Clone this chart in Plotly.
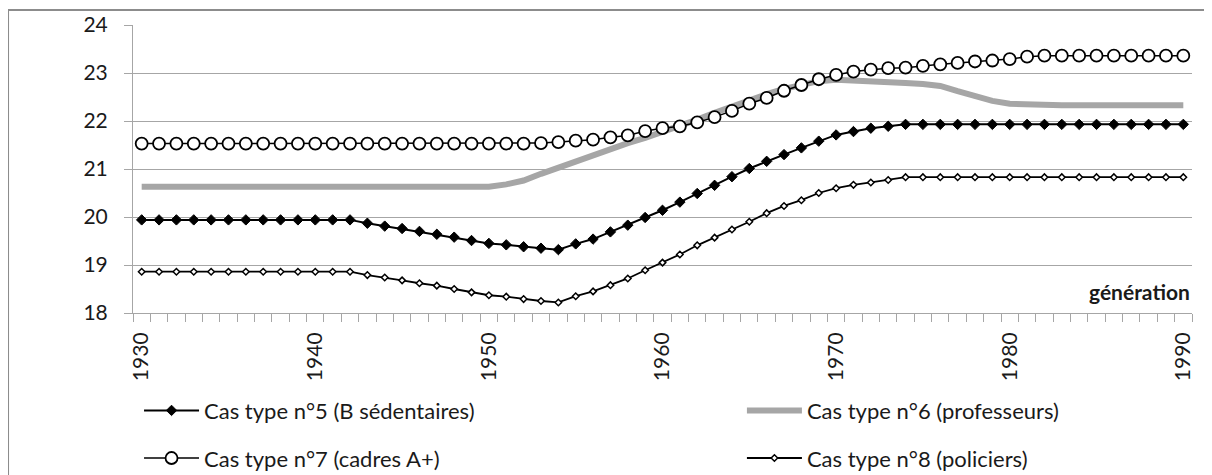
import plotly.graph_objects as go

years = list(range(1930, 1991))

cas5_b_sedentaires = (
    [19.94] * 13
    + [19.87, 19.81, 19.76, 19.70, 19.64, 19.58, 19.51, 19.45, 19.42, 19.38,
       19.35, 19.32, 19.44, 19.54, 19.69, 19.83, 19.99, 20.14, 20.31, 20.49,
       20.66, 20.84, 21.01, 21.16, 21.30, 21.44, 21.58, 21.71, 21.78, 21.85,
       21.89]
    + [21.93] * 17
)

cas6_professeurs = (
    [20.63] * 21
    + [20.68, 20.76, 20.90, 21.03, 21.17, 21.30, 21.42, 21.54, 21.65, 21.77,
       21.90, 22.03, 22.17, 22.31, 22.44, 22.56, 22.67, 22.76, 22.83, 22.86,
       22.85, 22.83, 22.81, 22.79, 22.77, 22.73, 22.62, 22.51, 22.42, 22.36,
       22.34]
    + [22.33] * 9
)

cas7_cadres = (
    [21.53] * 23
    + [21.54, 21.56, 21.59, 21.61, 21.66, 21.70, 21.79, 21.85, 21.89, 21.97,
       22.08, 22.21, 22.36, 22.48, 22.63, 22.75, 22.87, 22.96, 23.03, 23.07,
       23.10, 23.11, 23.15, 23.18, 23.21, 23.24, 23.26, 23.29, 23.34]
    + [23.36] * 9
)

cas8_policiers = (
    [18.86] * 13
    + [18.79, 18.74, 18.68, 18.62, 18.57, 18.50, 18.43, 18.37, 18.34, 18.29,
       18.25, 18.22, 18.35, 18.45, 18.58, 18.72, 18.89, 19.05, 19.22, 19.41,
       19.57, 19.74, 19.90, 20.08, 20.23, 20.35, 20.50, 20.60, 20.67, 20.72,
       20.77]
    + [20.83] * 17
)

names = [
    "Cas type n°5 (B sédentaires)",
    "Cas type n°6 (professeurs)",
    "Cas type n°7 (cadres A+)",
    "Cas type n°8 (policiers)",
]
x_tick_years = [1930, 1940, 1950, 1960, 1970, 1980, 1990]

FONT = "Lato, 'Open Sans', sans-serif"
GRID = "#A6A6A6"
TXT = "#1a1a1a"

fig = go.Figure()

fig.add_trace(go.Scatter(
    x=years, y=cas5_b_sedentaires, name=names[0], mode="lines+markers",
    line=dict(color="black", width=2),
    marker=dict(symbol="diamond", size=8, color="black", line=dict(color="black", width=1)),
    legend="legend", legendgroup="g5",
))
fig.add_trace(go.Scatter(
    x=years, y=cas6_professeurs, name=names[1], mode="lines",
    line=dict(color="#A6A6A6", width=6),
    legend="legend2", legendgroup="g6",
))
fig.add_trace(go.Scatter(
    x=years, y=cas7_cadres, name=names[2], mode="lines+markers",
    line=dict(color="black", width=1.5),
    marker=dict(symbol="circle", size=12, color="white", line=dict(color="black", width=1.8)),
    legend="legend", legendgroup="g7",
))
fig.add_trace(go.Scatter(
    x=years, y=cas8_policiers, name=names[3], mode="lines+markers",
    line=dict(color="black", width=1.8),
    marker=dict(symbol="diamond", size=5, color="white", line=dict(color="black", width=1.5)),
    legend="legend2", legendgroup="g8",
))

legend_common = dict(
    y=-0.266, yanchor="top", xanchor="left",
    orientation="v", tracegroupgap=16, itemwidth=55,
    bgcolor="rgba(0,0,0,0)", font=dict(family=FONT, size=22, color=TXT),
)

# page body adds an 8px offset; figure sized so the plot sits where the reference has it
fig.update_layout(
    width=1204, height=467,
    margin=dict(l=125, r=20, t=17, b=162, autoexpand=False),
    paper_bgcolor="white", plot_bgcolor="white",
    font=dict(family=FONT, size=21, color=TXT),
    xaxis=dict(
        range=[1929.5, 1990.5], tickvals=x_tick_years, tickangle=-90,
        ticks="outside", ticklen=10, tickcolor="rgba(0,0,0,0)",
        showline=True, linecolor=GRID, linewidth=1,
        showgrid=False, zeroline=False, automargin=False,
        minor=dict(tick0=1929.5, dtick=1, ticks="outside", ticklen=8,
                   tickcolor=GRID, showgrid=False),
        tickfont=dict(family=FONT, size=21, color=TXT),
    ),
    yaxis=dict(
        range=[18, 24], dtick=1, ticks="outside", ticklen=8, tickcolor=GRID,
        showline=True, linecolor=GRID, linewidth=1,
        showgrid=True, gridcolor=GRID, gridwidth=1, zeroline=False,
        ticklabelstandoff=12, automargin=False,
        tickfont=dict(family=FONT, size=21, color=TXT),
    ),
    legend=dict(x=0.0057, **legend_common),
    legend2=dict(x=0.575, **legend_common),
    showlegend=True,
    annotations=[dict(
        text="<b>génération</b>", xref="paper", yref="paper",
        x=1.0, y=0.076, xanchor="right", yanchor="middle", showarrow=False,
        font=dict(family=FONT, size=21, color=TXT),
    )],
    shapes=[dict(
        type="rect", xref="paper", yref="paper",
        x0=-0.118, x1=1.03, y0=-0.6, y1=1.052,
        line=dict(color="#8C8C8C", width=2), fillcolor="rgba(0,0,0,0)", layer="below",
    )],
)

fig.write_html("out.html")
